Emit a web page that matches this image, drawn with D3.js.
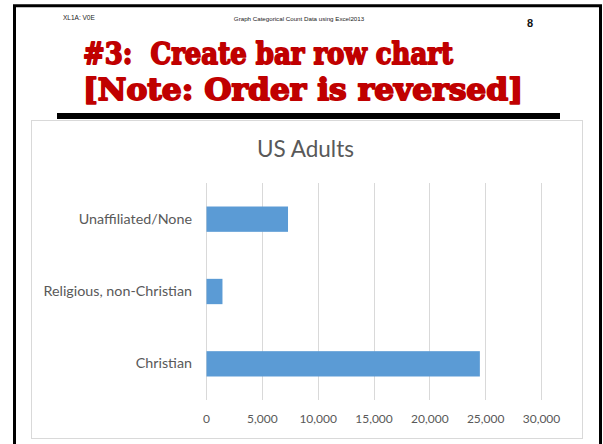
<!DOCTYPE html>
<html>
<head>
<meta charset="utf-8">
<script src="https://cdn.jsdelivr.net/npm/d3@7"></script>
<style>
  html, body { margin: 0; padding: 0; background: #fff; }
  svg { display: block; }
</style>
</head>
<body>
<svg id="chart" width="603" height="444"></svg>
<script>
// ---- data ----
const categories = ["Unaffiliated/None", "Religious, non-Christian", "Christian"];
const values = [7300, 1430, 24480];
const tickValues = [0, 5000, 10000, 15000, 20000, 25000, 30000];
const chartTitle = "US Adults";
const headerLeft = "XL1A: V0E";
const headerCenter = "Graph Categorical Count Data using Excel2013";
const pageNumber = "8";
const slideTitle = ["#3:\u00A0 Create bar row chart", "[Note: Order is reversed]"];

const svg = d3.select("#chart");
svg.append("rect").attr("width", 603).attr("height", 444).attr("fill", "#fff");

// page frame
svg.append("path")
  .attr("d", "M14.5,444 V5.8 H600.5 V444")
  .attr("fill", "none").attr("stroke", "#000").attr("stroke-width", 3);

// header texts
svg.append("text").attr("x", 63).attr("y", 19.5)
  .attr("font-family", "Liberation Sans, Arial, sans-serif").attr("font-size", 6.5)
  .attr("fill", "#222").text(headerLeft);
svg.append("text").attr("x", 299).attr("y", 21).attr("text-anchor", "middle")
  .attr("font-family", "Liberation Sans, Arial, sans-serif").attr("font-size", 6.2)
  .attr("fill", "#222").text(headerCenter);
svg.append("text").attr("x", 530).attr("y", 27).attr("text-anchor", "middle")
  .attr("font-family", "Liberation Sans, Arial, sans-serif").attr("font-size", 11)
  .attr("font-weight", "bold").attr("fill", "#111").text(pageNumber);

// slide title
const titleLines = [
  {t: slideTitle[0], y: 64, x0: 83, w: 370},
  {t: slideTitle[1], y: 100, x0: 83, w: 440}
];
titleLines.forEach(l => {
  svg.append("text").attr("x", l.x0).attr("y", l.y)
    .attr("font-family", "DejaVu Serif, serif").attr("font-weight", "bold")
    .attr("font-size", 30).attr("fill", "#c00000")
    .attr("stroke", "#c00000").attr("stroke-width", 1.8).attr("stroke-linejoin", "round")
    .attr("textLength", l.w).attr("lengthAdjust", "spacingAndGlyphs")
    .style("white-space", "pre")
    .text(l.t);
});

// black rule
svg.append("rect").attr("x", 57).attr("y", 113).attr("width", 503).attr("height", 6).attr("fill", "#000");

// chart area
svg.append("rect").attr("x", 31.5).attr("y", 120.5).attr("width", 551).attr("height", 318)
  .attr("fill", "#fff").attr("stroke", "#d9d9d9").attr("stroke-width", 1);

svg.append("text").attr("x", 305.5).attr("y", 157).attr("text-anchor", "middle")
  .attr("font-family", "Lato, sans-serif").attr("font-size", 22.5)
  .attr("fill", "#595959").text(chartTitle);

const x = d3.scaleLinear().domain([0, 30000]).range([206, 541]);
const y = d3.scaleBand().domain(categories).range([183, 400]).paddingInner(0.65).paddingOuter(0.325);

// gridlines
svg.append("g").selectAll("line").data(tickValues).join("line")
  .attr("x1", d => Math.round(x(d)) + 0.5).attr("x2", d => Math.round(x(d)) + 0.5)
  .attr("y1", 183).attr("y2", 400)
  .attr("stroke", "#d9d9d9").attr("stroke-width", 1);

// bars
svg.append("g").selectAll("rect").data(categories).join("rect")
  .attr("x", x(0) + 0.5)
  .attr("y", d => y(d))
  .attr("width", (d, i) => x(values[i]) - x(0))
  .attr("height", y.bandwidth())
  .attr("fill", "#5b9bd5");

// x axis labels
const xAxis = d3.axisBottom(x).tickValues(tickValues).tickSize(0).tickPadding(0)
  .tickFormat(d3.format(","));
const gx = svg.append("g").attr("transform", "translate(0,414)").call(xAxis);
gx.select(".domain").remove();
gx.selectAll("text").attr("font-family", "Lato, sans-serif").attr("font-size", 12)
  .attr("fill", "#595959");

// y axis labels
const yAxis = d3.axisLeft(y).tickSize(0).tickPadding(14);
const gy = svg.append("g").attr("transform", "translate(206,0)").call(yAxis);
gy.select(".domain").remove();
gy.selectAll("text").attr("font-family", "Lato, sans-serif").attr("font-size", 14.3)
  .attr("fill", "#595959");
</script>
</body>
</html>
